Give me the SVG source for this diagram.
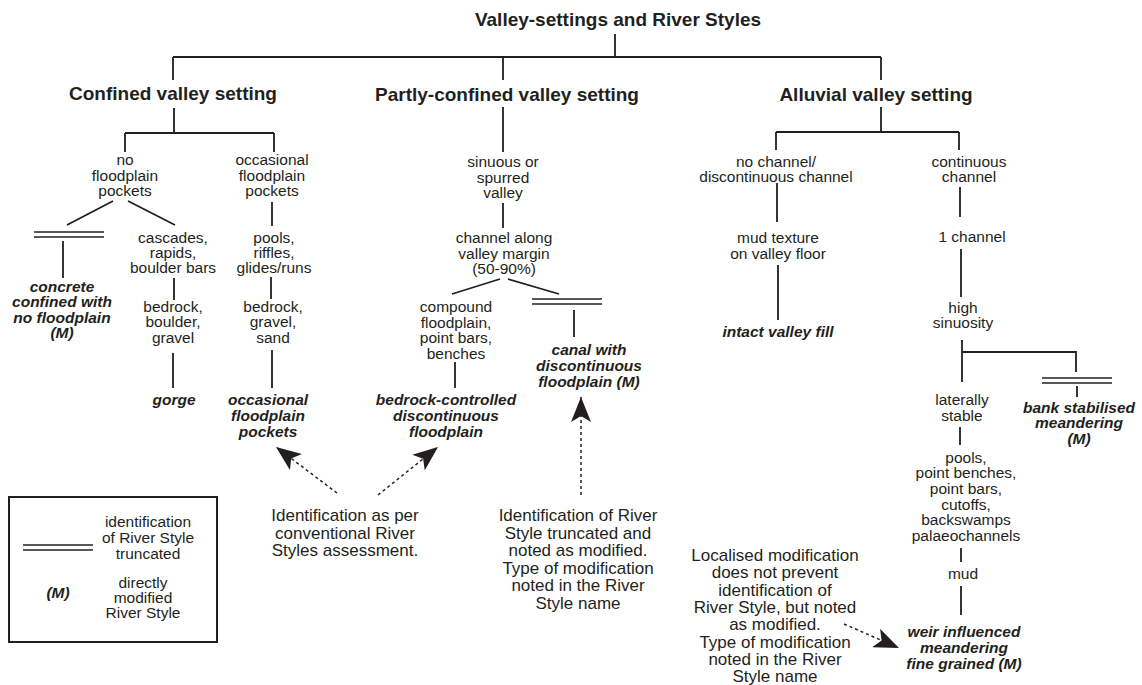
<svg xmlns="http://www.w3.org/2000/svg" xmlns:xlink="http://www.w3.org/1999/xlink" width="1142" height="685" viewBox="0 0 1142 685">
<style>
.t{font-family:"Liberation Sans",Arial,Helvetica,sans-serif;fill:#231f20;text-anchor:middle}
.h{font-size:19px;font-weight:bold}
.n{font-size:15.5px}
.r{font-size:15.5px;font-weight:bold;font-style:italic}
.a{font-size:17px}
.ln{stroke:#231f20;stroke-width:1.8;fill:none}
.dl{stroke:#231f20;stroke-width:1.7}
.ds{stroke:#231f20;stroke-width:1.5;stroke-dasharray:3 3;fill:none;marker-end:url(#ah)}
</style>
<defs>
<marker id="ah" viewBox="0 0 25 20" refX="25" refY="10" markerWidth="25" markerHeight="20" markerUnits="userSpaceOnUse" orient="auto">
<path d="M0,0 L25,10 L0,20 L6,10 Z" fill="#231f20"/>
</marker>
<g id="trunc" class="dl"><line x1="0" y1="0" x2="70" y2="0"/><line x1="0" y1="5" x2="70" y2="5"/></g>
</defs>
<rect width="1142" height="685" fill="#ffffff"/>

<g id="connectors" class="ln">
<path d="M615,34 V57 M173,57 H881 M173,57 V80 M503,57 V80 M881,57 V80"/>
<path d="M174,108 V133 M125,133 H274 M125,133 V152 M274,133 V152"/>
<path d="M503,107 V152"/>
<path d="M881,107 V132 M776,132 H959 M776,132 V150 M959,132 V150"/>
<path d="M113,201 L67,225 M128,201 L175,225"/>
<path d="M63,241 V278"/>
<path d="M174,278 V300 M173,353 V388"/>
<path d="M272,202 V226 M271,277 V299 M272,350 V388"/>
<path d="M503,203 V228"/>
<path d="M500,279 L452,294 M508,279 L559,294"/>
<path d="M574,310 V337"/>
<path d="M455,362 V388"/>
<path d="M777,183 V222 M778,265 V320"/>
<path d="M960,187 V217 M961,249 V297 M962,340 V382 M962,352 H1076 V372 M1077,386 V397"/>
<path d="M960,427 V445 M961,548 V562 M961,586 V615"/>
<use xlink:href="#trunc" x="34" y="232"/>
<use xlink:href="#trunc" x="532" y="299"/>
<use xlink:href="#trunc" x="1042" y="378"/>
<line class="ds" x1="337" y1="493" x2="276" y2="447"/>
<line class="ds" x1="378" y1="495" x2="438" y2="447"/>
<line class="ds" x1="581" y1="495" x2="581" y2="397"/>
<line class="ds" x1="844" y1="624" x2="899" y2="648"/>
</g>

<g id="title"><text class="t h" x="618" y="26">Valley-settings and River Styles</text></g>
<g id="confined"><text class="t h" x="173" y="100">Confined valley setting</text></g>
<g id="partly"><text class="t h" x="507" y="101">Partly-confined valley setting</text></g>
<g id="alluvial"><text class="t h" x="876" y="101">Alluvial valley setting</text></g>

<g id="no-fp-pockets"><text class="t n"><tspan x="125" y="165">no</tspan><tspan x="125" y="181">floodplain</tspan><tspan x="125" y="196">pockets</tspan></text></g>
<g id="occ-fp-pockets"><text class="t n"><tspan x="272" y="165">occasional</tspan><tspan x="272" y="181">floodplain</tspan><tspan x="272" y="196">pockets</tspan></text></g>
<g id="concrete"><text class="t r"><tspan x="62" y="292">concrete</tspan><tspan x="62" y="307">confined with</tspan><tspan x="62" y="323">no floodplain</tspan><tspan x="62" y="338">(M)</tspan></text></g>
<g id="cascades"><text class="t n"><tspan x="173" y="243">cascades,</tspan><tspan x="173" y="258">rapids,</tspan><tspan x="173" y="273">boulder bars</tspan></text></g>
<g id="bedrock-boulder"><text class="t n"><tspan x="173" y="312">bedrock,</tspan><tspan x="173" y="327">boulder,</tspan><tspan x="173" y="343">gravel</tspan></text></g>
<g id="gorge"><text class="t r" x="174" y="405">gorge</text></g>
<g id="pools-riffles"><text class="t n"><tspan x="274" y="243">pools,</tspan><tspan x="274" y="258">riffles,</tspan><tspan x="274" y="273">glides/runs</tspan></text></g>
<g id="bedrock-gravel"><text class="t n"><tspan x="273" y="312">bedrock,</tspan><tspan x="273" y="327">gravel,</tspan><tspan x="273" y="343">sand</tspan></text></g>
<g id="occ-fp-style"><text class="t r"><tspan x="268" y="405">occasional</tspan><tspan x="268" y="421">floodplain</tspan><tspan x="268" y="437">pockets</tspan></text></g>

<g id="sinuous"><text class="t n"><tspan x="503" y="167">sinuous or</tspan><tspan x="503" y="183">spurred</tspan><tspan x="503" y="198">valley</tspan></text></g>
<g id="channel-along"><text class="t n"><tspan x="504" y="243">channel along</tspan><tspan x="504" y="259">valley margin</tspan><tspan x="504" y="274">(50-90%)</tspan></text></g>
<g id="compound"><text class="t n"><tspan x="456" y="312">compound</tspan><tspan x="456" y="328">floodplain,</tspan><tspan x="456" y="343">point bars,</tspan><tspan x="456" y="359">benches</tspan></text></g>
<g id="bedrock-controlled"><text class="t r"><tspan x="446" y="405">bedrock-controlled</tspan><tspan x="446" y="421">discontinuous</tspan><tspan x="446" y="437">floodplain</tspan></text></g>
<g id="canal"><text class="t r"><tspan x="589" y="355">canal with</tspan><tspan x="589" y="371">discontinuous</tspan><tspan x="589" y="387">floodplain (M)</tspan></text></g>

<g id="no-channel"><text class="t n"><tspan x="776" y="167">no channel/</tspan><tspan x="776" y="182">discontinuous channel</tspan></text></g>
<g id="mud-texture"><text class="t n"><tspan x="778" y="243">mud texture</tspan><tspan x="778" y="259">on valley floor</tspan></text></g>
<g id="intact"><text class="t r" x="778" y="337">intact valley fill</text></g>
<g id="continuous"><text class="t n"><tspan x="969" y="167">continuous</tspan><tspan x="969" y="182">channel</tspan></text></g>
<g id="one-channel"><text class="t n" x="972" y="242">1 channel</text></g>
<g id="high-sin"><text class="t n"><tspan x="963" y="313">high</tspan><tspan x="963" y="328">sinuosity</tspan></text></g>
<g id="bank"><text class="t r"><tspan x="1079" y="413">bank stabilised</tspan><tspan x="1079" y="428">meandering</tspan><tspan x="1079" y="444">(M)</tspan></text></g>
<g id="laterally"><text class="t n"><tspan x="962" y="405">laterally</tspan><tspan x="962" y="421">stable</tspan></text></g>
<g id="pools-point"><text class="t n"><tspan x="966" y="463">pools,</tspan><tspan x="966" y="478">point benches,</tspan><tspan x="966" y="494">point bars,</tspan><tspan x="966" y="510">cutoffs,</tspan><tspan x="966" y="525">backswamps</tspan><tspan x="966" y="541">palaeochannels</tspan></text></g>
<g id="mud"><text class="t n" x="963" y="579">mud</text></g>
<g id="weir"><text class="t r"><tspan x="964" y="637">weir influenced</tspan><tspan x="964" y="653">meandering</tspan><tspan x="964" y="669">fine grained (M)</tspan></text></g>

<g id="note-conventional"><text class="t a"><tspan x="345" y="521">Identification as per</tspan><tspan x="345" y="538.5">conventional River</tspan><tspan x="345" y="556">Styles assessment.</tspan></text></g>
<g id="note-truncated"><text class="t a"><tspan x="578" y="521">Identification of River</tspan><tspan x="578" y="538.5">Style truncated and</tspan><tspan x="578" y="556">noted as modified.</tspan><tspan x="578" y="573.5">Type of modification</tspan><tspan x="578" y="591">noted in the River</tspan><tspan x="578" y="608.5">Style name</tspan></text></g>
<g id="note-localised"><text class="t a"><tspan x="775" y="561">Localised modification</tspan><tspan x="775" y="578.3">does not prevent</tspan><tspan x="775" y="595.6">identification of</tspan><tspan x="775" y="612.9">River Style, but noted</tspan><tspan x="775" y="630.2">as modified.</tspan><tspan x="775" y="647.5">Type of modification</tspan><tspan x="775" y="664.8">noted in the River</tspan><tspan x="775" y="682">Style name</tspan></text></g>

<g id="legend">
<rect x="9" y="497" width="208" height="145" fill="none" stroke="#231f20" stroke-width="2"/>
<use xlink:href="#trunc" x="23" y="545"/>
<text class="t n"><tspan x="148" y="527">identification</tspan><tspan x="148" y="543">of River Style</tspan><tspan x="148" y="559">truncated</tspan></text>
<text class="t r" x="58" y="598">(M)</text>
<text class="t n"><tspan x="143" y="588">directly</tspan><tspan x="143" y="603">modified</tspan><tspan x="143" y="618">River Style</tspan></text>
</g>
</svg>
